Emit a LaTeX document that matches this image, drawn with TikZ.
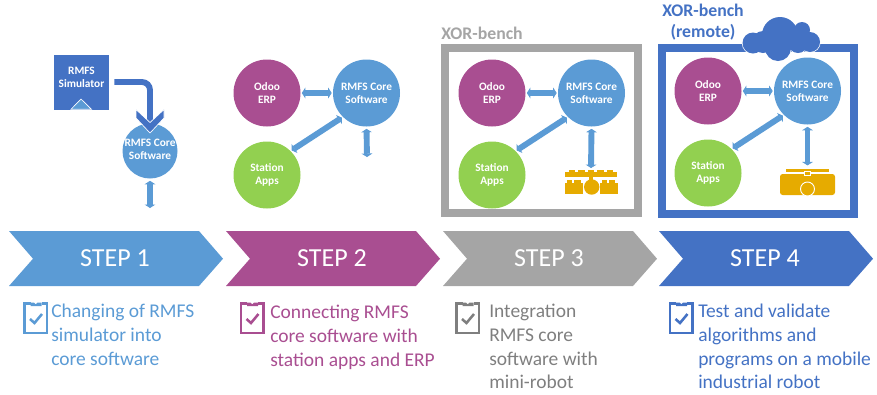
\documentclass[tikz,border=0pt]{standalone}
\usepackage{fontspec}
\setmainfont{Carlito}
\usetikzlibrary{arrows.meta,calc}
\definecolor{cblue}{HTML}{5B9BD5}
\definecolor{cpurple}{HTML}{A94E91}
\definecolor{cgrey}{HTML}{A5A5A5}
\definecolor{cdeep}{HTML}{4472C4}
\definecolor{cgreen}{HTML}{92D050}
\definecolor{cgold}{HTML}{E6AB00}
\definecolor{tgrey}{HTML}{7F7F7F}
\tikzset{
  smalltxt/.style={align=center,text=white,font=\fontsize{8.5}{9.8}\selectfont\bfseries},
  circ/.style={circle,minimum size=50.25pt,inner sep=0,outer sep=1pt,smalltxt},
  dbl/.style={draw=cblue,line width=4.4pt,{Triangle[width=8pt,length=2.6pt]}-{Triangle[width=8pt,length=2.6pt]}},
  stepl/.style={text=white,font=\fontsize{19.5}{22}\selectfont},
  desc/.style={anchor=north west,inner sep=0,align=left,font=\fontsize{14.6}{17.8}\selectfont},
  framelab/.style={inner sep=0,align=center,font=\fontsize{13.3}{15.8}\selectfont\bfseries},
  gold/.style={fill=cgold,draw=none},
  icon/.style={line width=1.6pt}
}
% chevron: left x, colour, name, label
\newcommand{\chev}[4]{%
  \fill[#2] (#1,231) -- ({#1+190},231) -- ({#1+214},258.7) -- ({#1+190},286) -- (#1,286) -- ({#1+24},258.7) -- cycle;
  \node[stepl] (#3) at ({#1+106},258) {#4};}
% three circles: prefix, x of left circle, y of top row
\newcommand{\trio}[3]{%
  \node[circ,fill=cpurple] (#1o) at (#2,#3) {Odoo\\ERP};
  \node[circ,fill=cblue] (#1c) at ({#2+99.5},#3) {RMFS Core\\Software};
  \node[circ,fill=cgreen] (#1s) at (#2,{#3+82}) {Station\\Apps};
  \draw[dbl] (#1o.east) -- (#1c.west);
  \draw[dbl] (#1c.225) -- (#1s.45);}
% checklist icon: left x, colour
\newcommand{\chkicon}[2]{%
  \begin{scope}[shift={(#1,303.5)}]
    \draw[#2,icon] (6,0) -- (0,0) -- (0,29.5) -- (22.5,29.5) -- (22.5,0) -- (17,0);
    \fill[#2] (6,2.5) -- (6,-1) -- (9.5,-1) arc (180:0:1.8) -- (17,-1) -- (17,2.5) -- cycle;
    \draw[#2,line width=1.9pt] (5.5,15.5) -- (10,19.5) -- (17.5,10.5);
  \end{scope}}
\begin{document}
\begin{tikzpicture}[x=0.75pt,y=-0.75pt]
\useasboundingbox (0,0) rectangle (877,394);
% step 1 graphic
\node[fill=cdeep,minimum size=41.25pt,inner sep=0] (sim) at (81.5,82) {};
\node[inner sep=0,smalltxt] (simt) at (81.5,77) {RMFS\\Simulator};
\fill[cblue,draw=white,line width=.5pt] (71,109.3) -- (81,99) -- (91.5,109.3) -- cycle;
\node[circle,minimum size=41.25pt,inner sep=0,outer sep=1pt,fill=cblue,smalltxt] (core) at (150,151) {};
\node[inner sep=0,smalltxt] (coret) at (150,149) {RMFS Core\\Software};
\draw[cdeep,line width=4.4pt,rounded corners=6pt] ([xshift=3.8pt]sim.east) -| ($(core.north)+(0,5)$);
\fill[cdeep,draw=white,line width=.5pt] (136,109.5) -- (150,122.5) -- (164,109.5) -- (164,118) -- (150,133) -- (136,118) -- cycle;
\coordinate (d1) at (150,208);
\draw[dbl] ($(core.south)+(0,1)$) -- (d1);
% step 2 graphic
\trio{b}{267}{93}
\coordinate (d2) at (367,157);
\draw[dbl] ($(bc.south)+(0,1)$) -- (d2);
% step 3 frame and graphic
\draw[cgrey,line width=6pt] (445,48) rectangle (638,213);
\node[framelab,text=cgrey,anchor=west] (l3) at (441,33) {XOR-bench};
\trio{c}{492}{93}
\node[inner sep=0,minimum width=39pt,minimum height=16pt] (mini) at (591,183) {};
\draw[dbl] ($(cc.south)+(0,1)$) -- ($(mini.north)+(0,-4)$);
\fill[gold] (565,172) rectangle (617,177);
\foreach \i/\w in {569/6,578/7,588/6,597/7,607/6}{\fill[gold] (\i,170) rectangle ({\i+\w},173);}
\fill[gold] (589,176) rectangle (593,181);
\fill[gold] (565,183) rectangle (583,193.5);
\fill[gold] (600,183) rectangle (618,193.5);
\foreach \i/\w in {567/5,574/7,602/5,609/6}{\fill[gold] (\i,180.3) rectangle ({\i+\w},184);}
\fill[cgold] (591.7,187) circle (7.7);
% step 4 frame and graphic
\draw[cdeep,line width=6pt] (662,48) rectangle (854,214);
\node[framelab,text=cdeep] (l4) at (703,22.5) {XOR-bench\\(remote)};
\begin{scope}
  \foreach \x/\y/\r in {753/43/10.5,763/42/11,780/35/18,802/30/8,810/42/10,778/48/13,798/43/10}
    {\draw[white,line width=1pt] (\x,\y) circle (\r);}
  \foreach \x/\y/\r in {753/43/10.5,763/42/11,780/35/18,802/30/8,810/42/10,778/48/13,798/43/10}
    {\fill[cdeep] (\x,\y) circle (\r);}
\end{scope}
\trio{e}{708}{91}
\node[inner sep=0,minimum width=41pt,minimum height=20pt] (robot) at (807.5,182) {};
\draw[dbl] ($(ec.south)+(0,1)$) -- ($(robot.north)+(0,-3)$);
\fill[gold,rounded corners=2pt] (780,174) rectangle (835,195);
\fill[gold] (786,169) rectangle (829,172);
\fill[gold,draw=white,line width=.4pt] (804.5,171.5) rectangle (810.5,175.5);
\fill[gold,draw=white,line width=.7pt] (807.5,189) circle (7);
% chevrons
\chev{9}{cblue}{s1}{STEP 1}
\chev{226}{cpurple}{s2}{STEP 2}
\chev{443}{cgrey}{s3}{STEP 3}
\chev{659}{cdeep}{s4}{STEP 4}
% descriptions
\chkicon{24.5}{cblue}
\chkicon{241}{cpurple}
\chkicon{456.5}{tgrey}
\chkicon{670}{cdeep}
\node[desc,text=cblue] (t1) at (51,304) {Changing of RMFS\\simulator into\\core software};
\node[desc,text=cpurple] (t2) at (270,305) {Connecting RMFS\\core software with\\station apps and ERP};
\node[desc,text=tgrey] (t3) at (489,304) {Integration\\RMFS core\\software with\\mini-robot};
\node[desc,text=cdeep] (t4) at (698,304) {Test and validate\\algorithms and\\programs on a mobile\\industrial robot};
\end{tikzpicture}
\end{document}
